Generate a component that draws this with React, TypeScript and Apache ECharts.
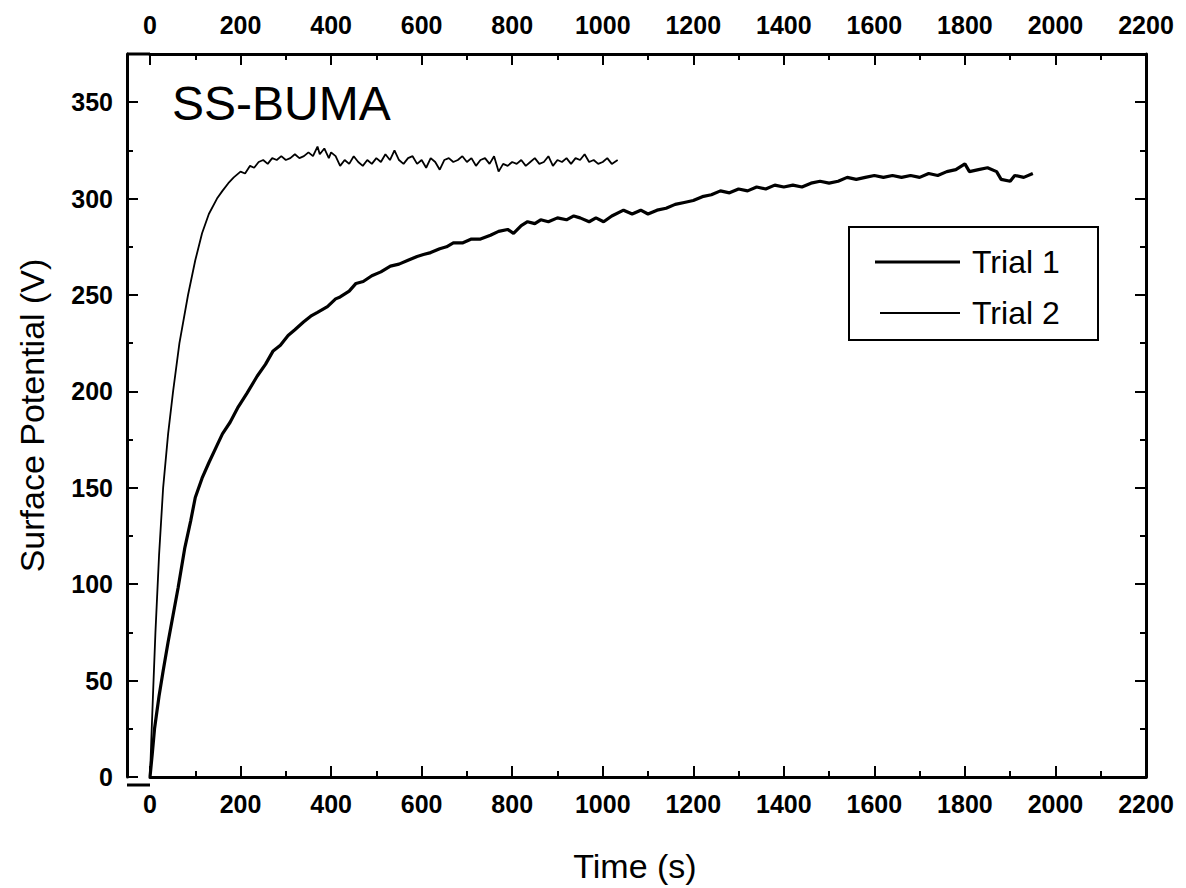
import React, { useEffect, useRef } from 'react';
import * as echarts from 'echarts';

const xMin = 0;
const xMax = 2200;
const xInterval = 200;
const yMin = 0;
const yMax = 375;
const yInterval = 50;
const legendNames = ['Trial 1', 'Trial 2'];

const trial1Time = [0, 5, 10, 20, 29, 40, 51, 62, 77, 90, 100, 115, 130, 148, 160, 177, 195, 214, 237, 255, 272, 288, 305, 320, 339, 355, 370, 392, 410, 420, 440, 455, 471, 490, 510, 531, 550, 570, 590, 604, 620, 640, 655, 670, 690, 710, 730, 752, 770, 790, 803, 820, 834, 850, 863, 880, 900, 920, 936, 950, 970, 985, 1002, 1020, 1046, 1065, 1084, 1100, 1120, 1140, 1160, 1180, 1200, 1220, 1240, 1260, 1280, 1300, 1320, 1340, 1360, 1380, 1400, 1420, 1440, 1460, 1480, 1500, 1520, 1540, 1560, 1580, 1600, 1620, 1640, 1660, 1680, 1700, 1720, 1740, 1760, 1780, 1800, 1810, 1830, 1850, 1870, 1880, 1900, 1910, 1930, 1950];
const trial1Potential = [0, 12, 25, 42, 55, 70, 84, 98, 119, 133, 145, 155, 163, 172, 178, 184, 192, 199, 208, 214, 221, 224, 229, 232, 236, 239, 241, 244, 248, 249, 252, 256, 257, 260, 262, 265, 266, 268, 270, 271, 272, 274, 275, 277, 277, 279, 279, 281, 283, 284, 282, 286, 288, 287, 289, 288, 290, 289, 291, 290, 288, 290, 288, 291, 294, 292, 294, 292, 294, 295, 297, 298, 299, 301, 302, 304, 303, 305, 304, 306, 305, 307, 306, 307, 306, 308, 309, 308, 309, 311, 310, 311, 312, 311, 312, 311, 312, 311, 313, 312, 314, 315, 318, 314, 315, 316, 314, 310, 309, 312, 311, 313];

const trial2Time = [0, 3, 7, 12, 20, 29, 40, 51, 65, 84, 100, 115, 130, 148, 160, 173, 185, 200, 210, 221, 230, 240, 250, 260, 270, 280, 290, 300, 310, 320, 330, 340, 350, 360, 370, 375, 385, 395, 400, 410, 420, 430, 440, 450, 460, 470, 480, 490, 500, 510, 520, 530, 540, 550, 560, 570, 580, 590, 600, 610, 620, 630, 640, 650, 660, 670, 680, 690, 700, 710, 720, 730, 740, 750, 760, 770, 780, 790, 800, 810, 820, 830, 840, 850, 860, 870, 880, 890, 900, 910, 920, 930, 940, 950, 960, 970, 980, 990, 1000, 1010, 1020, 1033];
const trial2Potential = [0, 20, 45, 75, 115, 150, 178, 200, 225, 250, 268, 282, 292, 300, 304, 308, 311, 314, 313, 317, 316, 319, 320, 318, 321, 320, 322, 320, 321, 323, 321, 322, 324, 322, 327, 323, 326, 321, 324, 322, 317, 320, 318, 322, 319, 317, 320, 318, 321, 319, 323, 320, 325, 320, 318, 321, 322, 318, 320, 316, 321, 319, 315, 320, 321, 319, 320, 322, 319, 321, 317, 320, 321, 318, 322, 314, 318, 317, 319, 318, 320, 317, 319, 321, 318, 319, 322, 317, 320, 319, 321, 318, 321, 320, 323, 319, 320, 318, 319, 321, 318, 320];

const FONT = 'Liberation Sans, Arial, sans-serif';
const W1 = 3.2;
const W2 = 1.8;
const GL = 150; // grid left (x = 0)
const FRAME_L = 127; // frame left edge
const GR = 1146; // frame right edge
const GT = 54;
const GB = 785;
const MAJ = 11;
const MIN = 6;

export default function App() {
  const ref = useRef<HTMLDivElement>(null);
  useEffect(() => {
    if (!ref.current) return;
    const chart = echarts.init(ref.current, null, { renderer: 'svg' });
    const cw = chart.getWidth();
    const ch = chart.getHeight();
    const d1 = trial1Time.map((t, i) => [t, trial1Potential[i]]);
    const d2 = trial2Time.map((t, i) => [t, trial2Potential[i]]);
    const lineStyle = { color: '#000', width: 3 };
    const tickStyle = { color: '#000', width: 2 };
    const labelStyle = { color: '#000', fontSize: 25, fontWeight: 'bold' as const, fontFamily: FONT };
    const xBase = { type: 'value' as const, min: xMin, max: xMax, interval: xInterval, splitLine: { show: false } };
    const yBase = { type: 'value' as const, min: yMin, max: yMax, interval: yInterval, splitLine: { show: false } };
    const hiddenLine = { show: false, onZero: false };
    // tick-only axes shifted inward so that their outward ticks end on the frame
    const majorTickAxis = (base: any, position: string, offset: number) => ({
      ...base, position, offset,
      axisLine: hiddenLine,
      axisLabel: { show: false },
      axisTick: { show: true, length: MAJ, lineStyle: tickStyle },
      minorTick: { show: false },
    });
    const minorTickAxis = (base: any, position: string, offset: number) => ({
      ...base, position, offset,
      axisLine: hiddenLine,
      axisLabel: { show: false },
      axisTick: { show: false },
      minorTick: { show: true, splitNumber: 2, length: MIN, lineStyle: tickStyle },
    });
    const yFmt = (v: number) => (v % yInterval === 0 ? String(v) : '');
    const yLeftOff = GL - FRAME_L;
    chart.setOption({
      animation: false,
      backgroundColor: '#fff',
      grid: { left: GL, right: cw - GR, top: GT, bottom: ch - GB, containLabel: false },
      xAxis: [
        {
          ...xBase, position: 'bottom', offset: 0,
          name: 'Time (s)', nameLocation: 'middle', nameGap: 72,
          nameTextStyle: { color: '#000', fontSize: 34, fontFamily: FONT, padding: [0, 26, 0, 0] },
          axisLine: { show: true, onZero: false, lineStyle },
          axisTick: { show: false },
          axisLabel: { ...labelStyle, margin: 14, formatter: (v: number) => String(v) },
        },
        {
          ...xBase, position: 'top', offset: 0,
          axisLine: { show: true, onZero: false, lineStyle },
          axisTick: { show: false },
          axisLabel: { ...labelStyle, margin: 17, formatter: (v: number) => String(v) },
        },
        majorTickAxis(xBase, 'bottom', -MAJ),
        minorTickAxis(xBase, 'bottom', -MIN),
        majorTickAxis(xBase, 'top', -MAJ),
        minorTickAxis(xBase, 'top', -MIN),
      ],
      yAxis: [
        {
          ...yBase, position: 'left', offset: yLeftOff,
          name: 'Surface Potential (V)', nameLocation: 'middle', nameGap: 78,
          nameTextStyle: { color: '#000', fontSize: 34, fontFamily: FONT },
          axisLine: { show: true, onZero: false, lineStyle },
          axisTick: { show: false },
          axisLabel: { ...labelStyle, margin: 14, formatter: yFmt },
        },
        {
          ...yBase, position: 'right', offset: 0,
          axisLine: { show: true, onZero: false, lineStyle },
          axisTick: { show: false },
          axisLabel: { show: false },
        },
        majorTickAxis(yBase, 'left', yLeftOff - MAJ),
        minorTickAxis(yBase, 'left', yLeftOff - MIN),
        majorTickAxis(yBase, 'right', -MAJ),
        minorTickAxis(yBase, 'right', -MIN),
      ],
      graphic: [
        {
          type: 'line', shape: { x1: FRAME_L, y1: GT, x2: GL, y2: GT },
          style: { stroke: '#000', lineWidth: 3 }, z: 5,
        },
        {
          type: 'line', shape: { x1: FRAME_L, y1: GB, x2: GL, y2: GB },
          style: { stroke: '#000', lineWidth: 3 }, z: 5,
        },
        {
          type: 'text', left: 172, top: 79,
          style: { text: 'SS-BUMA', fill: '#000', font: '48px Liberation Sans, Arial, sans-serif' },
        },
        {
          type: 'rect', shape: { x: 849, y: 227, width: 249, height: 113 },
          style: { fill: '#fff', stroke: '#000', lineWidth: 2 }, z: 10,
        },
        {
          type: 'line', shape: { x1: 875, y1: 262, x2: 960, y2: 262 },
          style: { stroke: '#000', lineWidth: W1 }, z: 11,
        },
        {
          type: 'line', shape: { x1: 880, y1: 313, x2: 960, y2: 313 },
          style: { stroke: '#000', lineWidth: W2 }, z: 11,
        },
        {
          type: 'text', x: 972, y: 262, z: 11,
          style: { text: legendNames[0], fill: '#000', font: '32px Liberation Sans, Arial, sans-serif', textVerticalAlign: 'middle' },
        },
        {
          type: 'text', x: 972, y: 313, z: 11,
          style: { text: legendNames[1], fill: '#000', font: '32px Liberation Sans, Arial, sans-serif', textVerticalAlign: 'middle' },
        },
      ],
      series: [
        {
          name: legendNames[0], type: 'line', xAxisIndex: 0, yAxisIndex: 0, data: d1,
          symbol: 'none', showSymbol: false, lineStyle: { color: '#000', width: W1 }, itemStyle: { color: '#000' },
        },
        {
          name: legendNames[1], type: 'line', xAxisIndex: 0, yAxisIndex: 0, data: d2,
          symbol: 'none', showSymbol: false, lineStyle: { color: '#000', width: W2 }, itemStyle: { color: '#000' },
        },
      ],
    });
    return () => chart.dispose();
  }, []);
  return <div ref={ref} style={{ position: 'absolute', left: 0, top: 0, width: 1186, height: 888 }} />;
}
